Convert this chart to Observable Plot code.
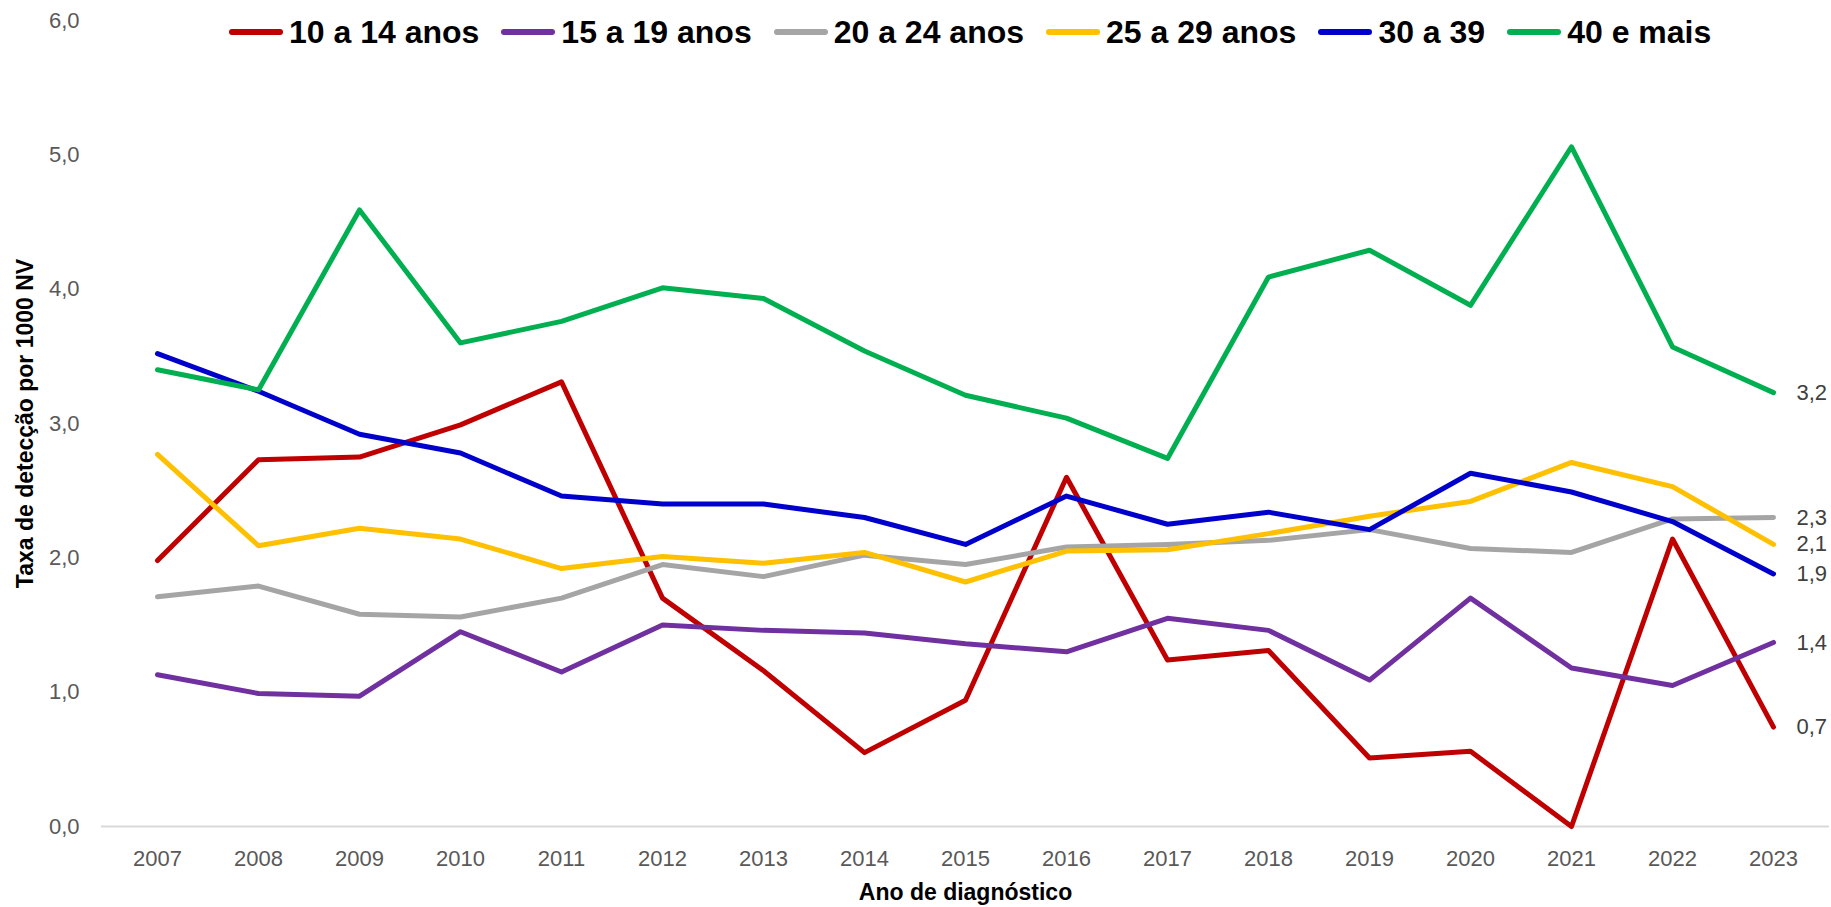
<!DOCTYPE html>
<html>
<head>
<meta charset="utf-8">
<script src="https://cdn.jsdelivr.net/npm/d3@7"></script>
<script src="https://cdn.jsdelivr.net/npm/@observablehq/plot@0.6"></script>
<style>
  html, body { margin: 0; padding: 0; background: #fff; }
  #wrap { position: relative; width: 1831px; height: 907px; overflow: hidden; }
  #legend {
    position: absolute; top: 13px; left: 229px;
    display: flex; align-items: center; gap: 22px;
    font-family: "Liberation Sans", Arial, sans-serif;
    font-weight: bold; font-size: 32px; color: #000; line-height: 38px;
  }
  .item { display: flex; align-items: center; gap: 6px; white-space: nowrap; }
  .item svg { display: block; }
  #chart svg { display: block; }
</style>
</head>
<body>
<div id="wrap">
  <div id="chart"></div>
  <div id="legend"></div>
</div>
<script>
// ---- data ----
const years = [2007, 2008, 2009, 2010, 2011, 2012, 2013, 2014, 2015, 2016, 2017, 2018, 2019, 2020, 2021, 2022, 2023];

const seriesNames = ["10 a 14 anos", "15 a 19 anos", "20 a 24 anos", "25 a 29 anos", "30 a 39", "40 e mais"];
const seriesColors = ["#C00000", "#7030A0", "#A5A5A5", "#FFC000", "#0000CC", "#00B050"];

const v10a14 = [1.98, 2.73, 2.75, 2.99, 3.31, 1.70, 1.16, 0.55, 0.94, 2.60, 1.24, 1.31, 0.51, 0.56, 0.00, 2.14, 0.74];
const v15a19 = [1.13, 0.99, 0.97, 1.45, 1.15, 1.50, 1.46, 1.44, 1.36, 1.30, 1.55, 1.46, 1.09, 1.70, 1.18, 1.05, 1.37];
const v20a24 = [1.71, 1.79, 1.58, 1.56, 1.70, 1.95, 1.86, 2.02, 1.95, 2.08, 2.10, 2.13, 2.21, 2.07, 2.04, 2.29, 2.30];
const v25a29 = [2.77, 2.09, 2.22, 2.14, 1.92, 2.01, 1.96, 2.04, 1.82, 2.05, 2.06, 2.18, 2.31, 2.42, 2.71, 2.53, 2.10];
const v30a39 = [3.52, 3.24, 2.92, 2.78, 2.46, 2.40, 2.40, 2.30, 2.10, 2.46, 2.25, 2.34, 2.21, 2.63, 2.49, 2.27, 1.88];
const v40mais = [3.40, 3.25, 4.59, 3.60, 3.76, 4.01, 3.93, 3.54, 3.21, 3.04, 2.74, 4.09, 4.29, 3.88, 5.06, 3.57, 3.23];

const yTicks = [0, 1, 2, 3, 4, 5, 6];
const yTitle = "Taxa de detecção por 1000 NV";
const xTitle = "Ano de diagnóstico";

// ---- build table ----
const seriesValues = [v10a14, v15a19, v20a24, v25a29, v30a39, v40mais];
const data = seriesNames.flatMap((name, s) =>
  years.map((year, i) => ({ year, value: seriesValues[s][i], serie: name }))
);
const last = data.filter(d => d.year === years[years.length - 1]);
const fmt = v => v.toFixed(1).replace(".", ",");

const font = '"Liberation Sans", Arial, sans-serif';

const chart = Plot.plot({
  width: 1831,
  height: 907,
  marginLeft: 101,
  marginRight: 2,
  marginTop: 20,
  marginBottom: 81,
  style: { fontFamily: font, background: "#fff", overflow: "visible" },
  x: { type: "point", domain: years, padding: 0.5, label: null },
  y: { domain: [0, 6], label: null },
  color: { domain: seriesNames, range: seriesColors },
  marks: [
    Plot.ruleY([0], { stroke: "#d9d9d9", strokeWidth: 2 }),
    Plot.axisY({ ticks: yTicks, tickSize: 0, tickPadding: 22, tickFormat: fmt, fontSize: 22, color: "#595959", label: null }),
    Plot.axisX({ tickSize: 0, tickPadding: 24, tickFormat: d => String(d), fontSize: 22, color: "#595959", label: null }),
    Plot.line(data, {
      x: "year", y: "value", z: "serie", stroke: "serie",
      strokeWidth: 5, strokeLinecap: "round", strokeLinejoin: "round"
    }),
    Plot.text(last, {
      x: "year", y: "value", text: d => fmt(d.value),
      dx: 23, textAnchor: "start", fontSize: 22, fill: "#404040"
    }),
    Plot.text([xTitle], {
      frameAnchor: "bottom", textAnchor: "middle", lineAnchor: "middle", dy: 66,
      fontSize: 23, fontWeight: "bold", fill: "#000"
    }),
    Plot.text([yTitle], {
      frameAnchor: "left", textAnchor: "middle", lineAnchor: "middle", rotate: -90, dx: -76,
      fontSize: 23, fontWeight: "bold", fill: "#000"
    })
  ]
});
document.getElementById("chart").appendChild(chart);

// ---- legend ----
const legend = document.getElementById("legend");
seriesNames.forEach((name, i) => {
  const item = document.createElement("div");
  item.className = "item";
  item.innerHTML = `<svg width="54" height="10"><line x1="3" y1="5" x2="51" y2="5" stroke="${seriesColors[i]}" stroke-width="6" stroke-linecap="round"/></svg><span>${name}</span>`;
  legend.appendChild(item);
});
</script>
</body>
</html>
